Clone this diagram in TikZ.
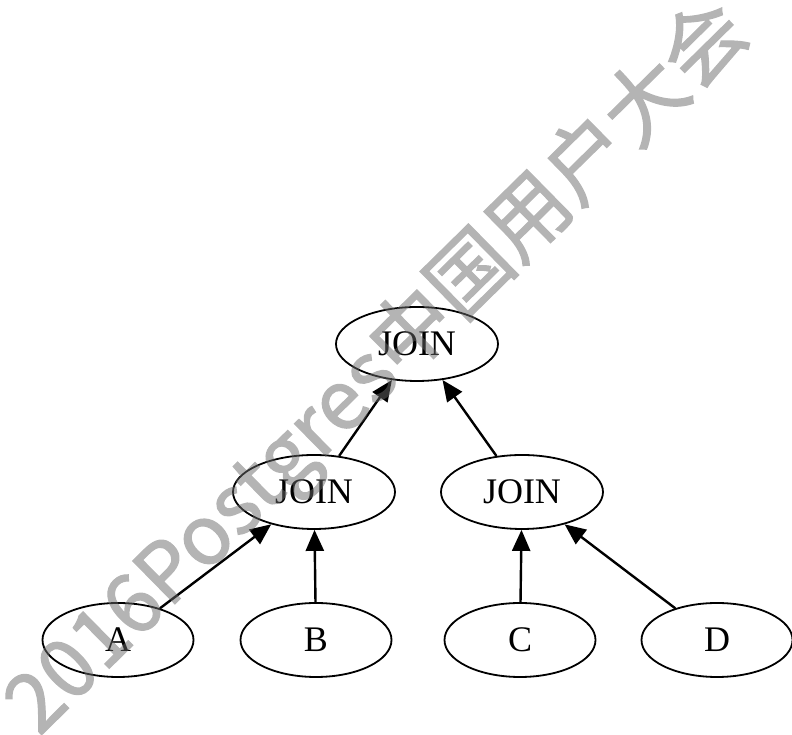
\documentclass[tikz,border=0pt]{standalone}
\usepackage{fontspec}
\setmainfont{Liberation Serif}
\newfontfamily\cjk[FakeBold=1.5]{Noto Sans CJK SC}
\usetikzlibrary{shapes.geometric,arrows.meta}

\tikzset{
  plan/.style={ellipse, draw, line width=1.8pt, minimum width=162pt, minimum height=74pt,
    inner sep=0pt, font=\fontsize{36}{42}\selectfont},
  rel/.style={plan, minimum width=151pt},
  feed/.style={line width=2.4pt, -{Triangle[length=21pt,width=18pt]}}
}

\begin{document}
\begin{tikzpicture}[x=10pt, y=10pt]
% Fix the page size
\useasboundingbox (0, 0) rectangle (79.2, 73.5);
% Top join
\node[plan] (top) at (41.7, 39.1) {JOIN};
% Middle joins
\node[plan] (left) at (31.4, 24.3) {JOIN};
\node[plan] (right) at (52.2, 24.3) {JOIN};
% Base relations
\node[rel] (a) at (11.8, 9.5) {A};
\node[rel] (b) at (31.6, 9.5) {B};
\node[rel] (c) at (52.0, 9.5) {C};
\node[rel] (d) at (71.7, 9.5) {D};
% Edges point up to the join that reads them
\draw[feed] (a) -- (left);
\draw[feed] (b) -- (left);
\draw[feed] (c) -- (right);
\draw[feed] (d) -- (right);
\draw[feed] (left) -- (top);
\draw[feed] (right) -- (top);
% Diagonal watermark over everything, see-through as one piece
\begin{scope}[transparency group, opacity=0.5]
\node[rotate=44.5, text=black!59, inner sep=0pt, font=\cjk\fontsize{82}{86}\selectfont]
  (mark) at (37.9, 36.6) {2016Postgres中国用户大会};
\end{scope}
\end{tikzpicture}
\end{document}
